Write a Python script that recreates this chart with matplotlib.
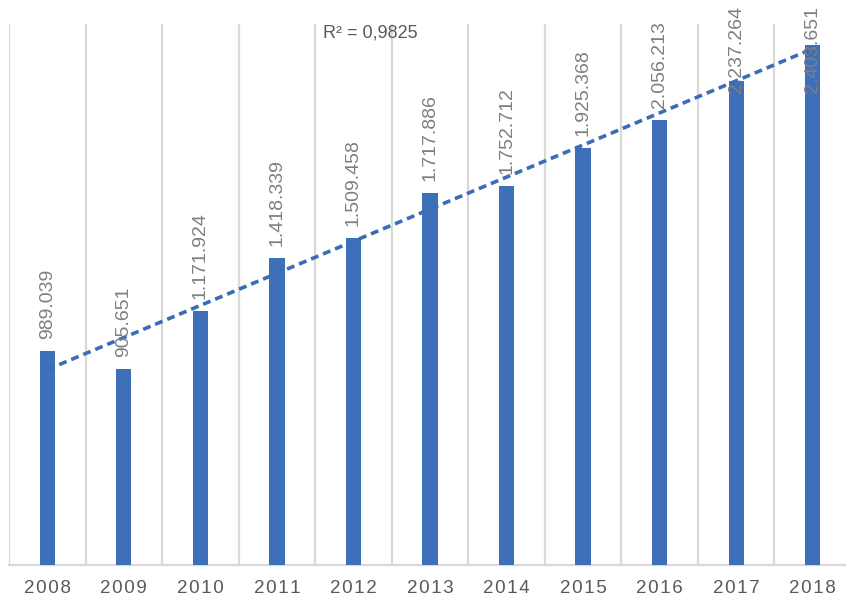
import matplotlib
matplotlib.use("Agg")
import matplotlib.pyplot as plt
import numpy as np

years = ["2008", "2009", "2010", "2011", "2012", "2013", "2014", "2015", "2016", "2017", "2018"]
values = [989039, 905651, 1171924, 1418339, 1509458, 1717886, 1752712, 1925368, 2056213, 2237264, 2403651]
r2_label = "R² = 0,9825"

plt.rcParams["font.family"] = ["Liberation Sans", "DejaVu Sans"]

W, H = 846, 601
fig = plt.figure(figsize=(W / 100, H / 100), dpi=100)
ax = fig.add_axes([9 / W, 36 / H, 842 / W, 541 / H])

x = np.arange(len(years))
bar_color = "#3e70ba"
ax.bar(x, values, width=0.2, color=bar_color, zorder=3)

# linear trend line
k, b = np.polyfit(x + 1, values, 1)
ax.plot(x, k * (x + 1) + b, color="#3a6cb8", lw=2.6, ls=(0, (2.2, 1.4)), zorder=4)

ax.set_xlim(-0.5, len(years) - 0.5)
ax.set_ylim(0, 2500000)

# vertical separators between categories
for xb in np.arange(-0.5, len(years), 1.0):
    ax.axvline(xb, color="#d9d9d9", lw=1.6, zorder=1)

for s in ["top", "right", "left"]:
    ax.spines[s].set_visible(False)
ax.spines["bottom"].set_color("#d9d9d9")
ax.spines["bottom"].set_linewidth(1.6)
ax.set_yticks([])
ax.set_xticks(x)
# slight letter spacing like the original
ax.set_xticklabels(["\u200a".join(y) for y in years], fontsize=13.5, color="#595959")
ax.tick_params(axis="x", length=0, pad=11)

labels = []
for xi, v in zip(x, values):
    t = ax.annotate(f"{v:,}".replace(",", "."), (xi, v), xytext=(0, 12),
                    textcoords="offset pixels", rotation=90, ha="center", va="bottom",
                    fontsize=14, color="#7f7f7f", zorder=5, annotation_clip=False)
    labels.append(t)

ax.text(0.429, 0.983, r2_label, transform=ax.transAxes, fontsize=13,
        color="#595959", ha="center", va="center")

fig.canvas.draw()
renderer = fig.canvas.get_renderer()
for t in labels:
    bb = t.get_window_extent(renderer)
    top_limit = H - 6
    if bb.y1 > top_limit:
        t.xyann = (0, 12 - (bb.y1 - top_limit))

fig.savefig("out.png", dpi=100)
